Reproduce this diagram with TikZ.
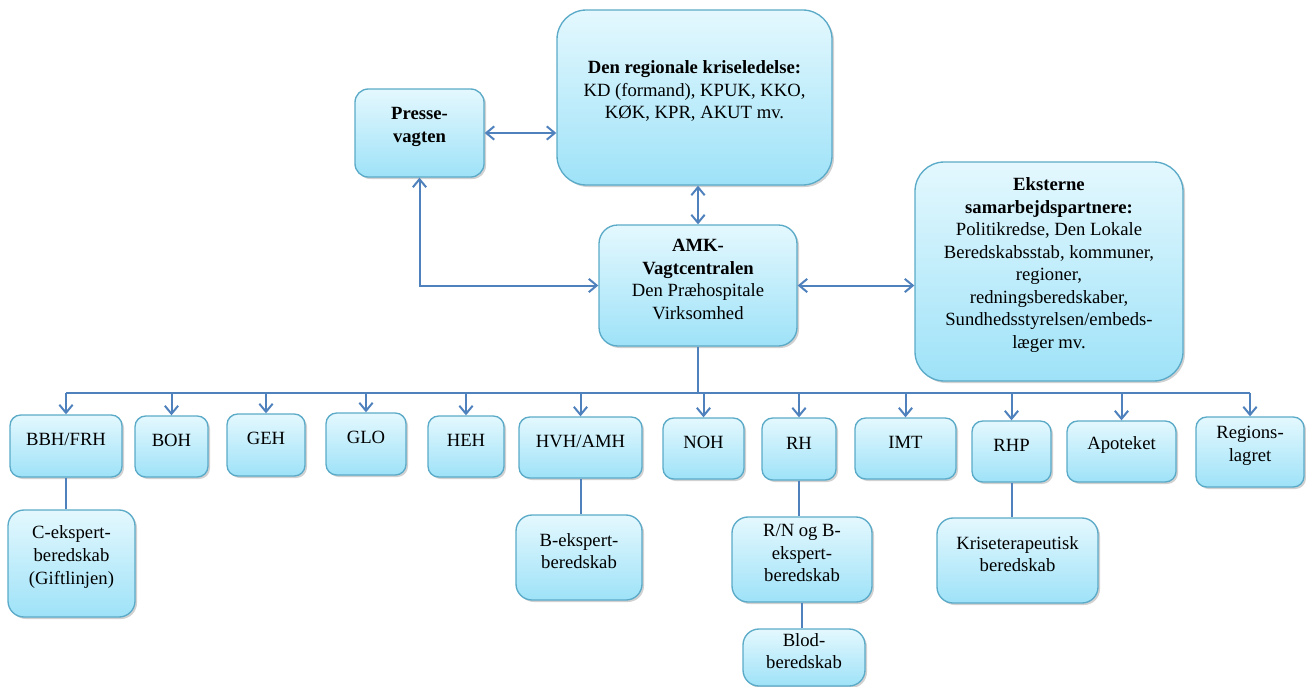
\documentclass[tikz,border=0pt]{standalone}
\usepackage{fontspec}
\setmainfont{Liberation Serif}
\usetikzlibrary{arrows.meta,shadows,fit}
\definecolor{lineblue}{RGB}{79,129,189}
\definecolor{boxedge}{RGB}{90,170,200}
\definecolor{boxtop}{RGB}{228,248,254}
\definecolor{boxbot}{RGB}{158,226,248}
\begin{document}
\begin{tikzpicture}[x=0.75pt,y=-0.75pt,
 box/.style={draw=boxedge, line width=1pt, top color=boxtop, bottom color=boxbot,
   rounded corners=8pt, inner sep=0pt, align=center,
   font=\fontsize{14}{16.9}\selectfont,
   drop shadow={opacity=0.3, shadow xshift=1.5pt, shadow yshift=-1.5pt, fill=black!60}},
 conn/.style={draw=lineblue, line width=1.5pt},
 arr/.style={conn, -{Straight Barb[length=6pt,width=10pt]}},
 biarr/.style={conn, {Straight Barb[length=6pt,width=10pt]}-{Straight Barb[length=6pt,width=10pt]}}]
\useasboundingbox (0,0) rectangle (1306,686);

% top level
\node[box, rounded corners=10pt, fit={(355,89)(484,177)}] (presse) {\textbf{Presse-}\\\textbf{vagten}};
\node[box, rounded corners=22pt, fit={(557,10)(832,185)}] (krise) {\textbf{Den regionale kriseledelse:}\\KD (formand), KPUK, KKO,\\KØK, KPR, AKUT mv.};
\node[box, rounded corners=14pt, fit={(599,225)(797,346)}] (amk) {\textbf{AMK-}\\\textbf{Vagtcentralen}\\Den Præhospitale\\Virksomhed};
\node[box, rounded corners=22pt, fit={(915,162)(1183,381)}] (ext) {\textbf{Eksterne}\\\textbf{samarbejdspartnere:}\\Politikredse, Den Lokale\\Beredskabsstab, kommuner,\\regioner,\\redningsberedskaber,\\Sundhedsstyrelsen/embeds-\\læger mv.};

% bottom row
\node[box, fit={(10,415)(122,477)}] (bbh) {BBH/FRH};
\node[box, fit={(135,416)(208,477)}] (boh) {BOH};
\node[box, fit={(227,414)(305,476)}] (geh) {GEH};
\node[box, fit={(326,413)(406,475)}] (glo) {GLO};
\node[box, fit={(428,416)(504,477)}] (heh) {HEH};
\node[box, fit={(519,417)(642,478)}] (hvh) {HVH/AMH};
\node[box, fit={(663,418)(744,479)}] (noh) {NOH};
\node[box, fit={(762,418)(836,480)}] (rh) {RH};
\node[box, fit={(855,418)(956,479)}] (imt) {IMT};
\node[box, fit={(972,421)(1051,482)}] (rhp) {RHP};
\node[box, fit={(1067,421)(1176,482)}] (apo) {Apoteket};
\node[box, fit={(1196,417)(1304,487)}] (reg) {Regions-\\lagret};

% sub boxes
\node[box, rounded corners=12pt, fit={(8,510)(135,617)}] (cek) {C-ekspert-\\beredskab\\(Giftlinjen)};
\node[box, rounded corners=12pt, fit={(516,515)(642,600)}] (bek) {B-ekspert-\\beredskab};
\node[box, rounded corners=12pt, fit={(732,517)(872,602)}] (rn) {R/N og B-\\ekspert-\\beredskab};
\node[box, rounded corners=12pt, fit={(743,629)(865,686)}] (blod) {Blod-\\beredskab};
\node[box, rounded corners=12pt, fit={(937,518)(1098,603)}] (kt) {Kriseterapeutisk\\beredskab};

% top connectors
\draw[biarr] (presse.east) -- (presse.east -| krise.west);
\draw[biarr] (amk.north) -- (amk.north |- krise.south);
\draw[biarr] (presse.south) |- (amk.west);
\draw[biarr] (amk.east) -- (amk.east -| ext.west);

% bus
\coordinate (bus) at (698,393);
\draw[conn] (amk.south) -- (bus);
\draw[conn] (bus -| bbh.north) -- (bus -| reg.north);
\foreach \n in {bbh,boh,geh,glo,heh,hvh,noh,rh,imt,rhp,apo,reg}
  \draw[arr] (bus -| \n.north) -- (\n.north);

% sub connectors
\draw[conn] (bbh.south) -- (bbh.south |- cek.north);
\draw[conn] (hvh.south) -- (hvh.south |- bek.north);
\draw[conn] (rh.south) -- (rh.south |- rn.north);
\draw[conn] (rn.south) -- (rn.south |- blod.north);
\draw[conn] (rhp.south) -- (rhp.south |- kt.north);
\end{tikzpicture}
\end{document}
